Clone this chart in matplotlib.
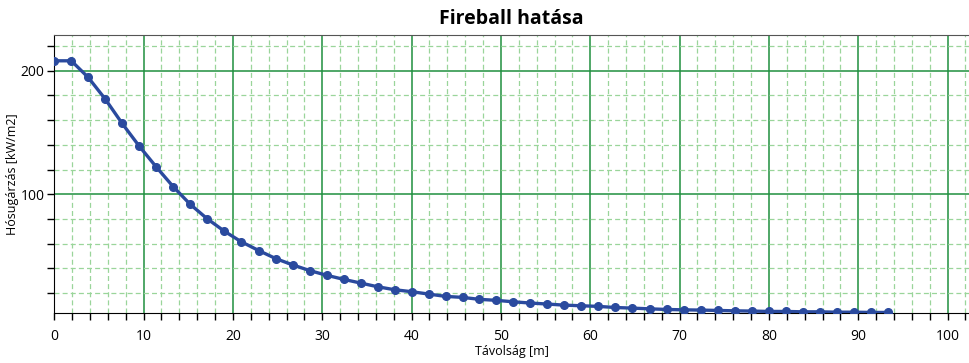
import matplotlib
matplotlib.use("Agg")
import matplotlib.pyplot as plt
from matplotlib.ticker import MultipleLocator

# distance [m]
distance = [0.0, 1.9, 3.8, 5.7, 7.6, 9.5, 11.4, 13.3, 15.2, 17.1,
            19.0, 20.9, 22.9, 24.8, 26.7, 28.6, 30.5, 32.4, 34.3, 36.2,
            38.1, 40.0, 41.9, 43.8, 45.7, 47.6, 49.5, 51.4, 53.3, 55.2,
            57.1, 59.0, 60.9, 62.8, 64.7, 66.7, 68.6, 70.5, 72.4, 74.3,
            76.2, 78.1, 80.0, 81.9, 83.8, 85.7, 87.6, 89.5, 91.4, 93.3]
# heat radiation [kW/m2]
radiation = [208.1, 208.1, 194.6, 177.1, 157.3, 139.0, 122.2, 106.2, 91.9, 80.2,
             70.2, 61.6, 54.3, 47.8, 42.7, 38.1, 34.3, 31.0, 28.0, 25.0,
             22.6, 21.0, 19.1, 17.2, 16.4, 14.8, 14.0, 12.8, 11.8, 11.0,
             10.1, 9.6, 9.1, 8.2, 7.7, 7.1, 6.6, 6.3, 6.1, 5.8,
             5.5, 5.3, 5.0, 5.0, 4.7, 4.7, 4.4, 4.4, 4.2, 4.2]

plt.rcParams['font.family'] = ['Open Sans', 'DejaVu Sans']

fig = plt.figure(figsize=(9.69, 3.63), dpi=100)
ax = fig.add_axes([54.3 / 969, 49.7 / 363, (969 - 54.3) / 969, (313.3 - 35) / 363])

ax.plot(distance, radiation, color='#2a4a9e', lw=2.4, marker='o',
        markersize=5.5, zorder=3)

ax.set_xlim(0, 102.4)
ax.set_ylim(3.5, 229)

ax.xaxis.set_major_locator(MultipleLocator(10))
ax.xaxis.set_minor_locator(MultipleLocator(2))
ax.yaxis.set_major_locator(MultipleLocator(100))
ax.yaxis.set_minor_locator(MultipleLocator(20))

ax.grid(which='major', color='#1f8f3f', lw=1.1, ls='-', zorder=1)
ax.grid(which='minor', color='#9ad59a', lw=0.9, ls=(0, (4, 2.5)), zorder=0)

ax.tick_params(which='both', direction='out', length=5, width=1, color='black',
               labelsize=10)
ax.tick_params(axis='x', pad=6)
ax.tick_params(axis='y', pad=2)

ax.spines['right'].set_visible(False)
ax.spines['top'].set_color('#555555')
for s in ('left', 'bottom'):
    ax.spines[s].set_color('black')

ax.set_title('Fireball hatása', fontsize=14, fontweight='bold', pad=8)
ax.set_xlabel('Távolság [m]', fontsize=9, labelpad=1)
ax.set_ylabel('Hósugárzás [kW/m2]', fontsize=9, labelpad=1)

fig.savefig('out.png', dpi=100)
